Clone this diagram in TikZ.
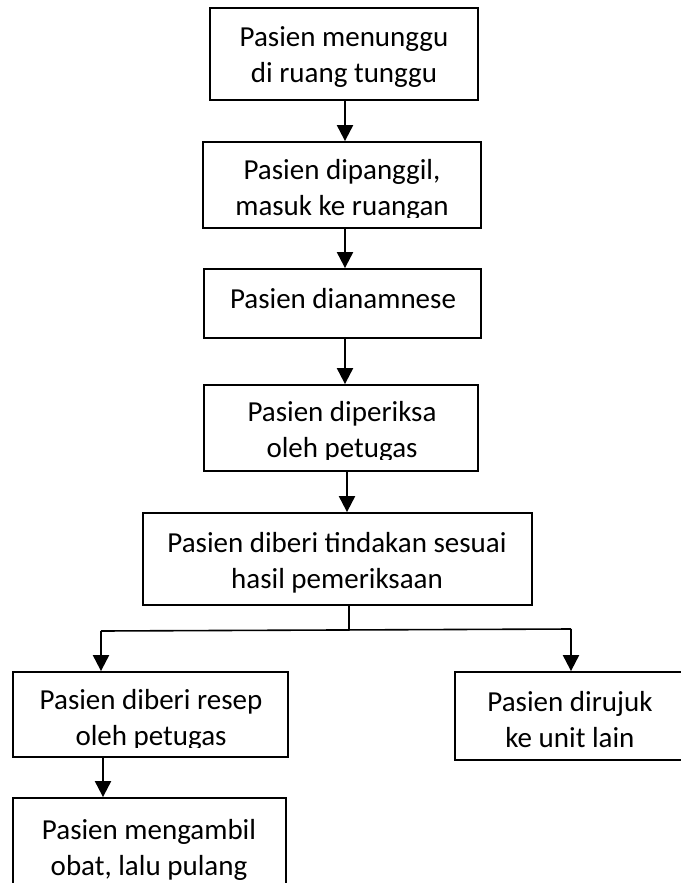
\documentclass[tikz,border=0pt]{standalone}
\usepackage{fontspec}
\setmainfont{Carlito}
\usetikzlibrary{arrows.meta}
\begin{document}
\begin{tikzpicture}[x=1pt,y=-1pt,
  box/.style={draw=black, line width=1.8pt, rectangle, inner sep=0pt},
  txt/.style={font=\fontsize{29}{35.4}\selectfont, align=center, anchor=base, inner sep=0pt},
  arr/.style={line width=2pt, -{Triangle[width=16pt,length=16pt]}},
  ln/.style={line width=1.6pt}]
\useasboundingbox (0,0) rectangle (680,883);
% boxes
\node[box, minimum width=268pt, minimum height=92pt] (b1) at (344,54) {};
\node[box, minimum width=278pt, minimum height=86pt] (b2) at (342,185) {};
\node[box, minimum width=277pt, minimum height=69pt] (b3) at (342.5,303.5) {};
\node[box, minimum width=274pt, minimum height=86pt] (b4) at (341,428) {};
\node[box, minimum width=389pt, minimum height=92pt] (b5) at (337.5,559) {};
\node[box, minimum width=275pt, minimum height=85pt] (b6) at (150.5,714.5) {};
\node[box, minimum width=230pt, minimum height=88pt] (b7) at (570,716) {};
\node[box, minimum width=273pt, minimum height=162pt] (b8) at (149.5,879) {};
% texts (anchor = baseline of the last line)
\node[txt] (t1) at (344,82) {Pasien menunggu\\di ruang tunggu};
\begin{scope}
\clip (200,140) rectangle (480,217);
\node[txt] (t2) at (342,215) {Pasien dipanggil,\\masuk ke ruangan};
\end{scope}
\node[txt] (t3) at (343,308) {Pasien dianamnese};
\begin{scope}
\clip (200,385) rectangle (480,459.5);
\node[txt] (t4) at (342,457) {Pasien diperiksa\\oleh petugas};
\end{scope}
\node[txt] (t5) at (337,588) {Pasien diberi tindakan sesuai\\hasil pemeriksaan};
\begin{scope}
\clip (10,672) rectangle (290,747.5);
\node[txt] (t6) at (151,745) {Pasien diberi resep\\oleh petugas};
\end{scope}
\node[txt] (t7) at (570,747) {Pasien dirujuk\\ke unit lain};
\node[txt] (t8) at (149,875) {Pasien mengambil\\obat, lalu pulang};
% connectors
\coordinate (ca) at (345,0);
\coordinate (cb) at (347,0);
\coordinate (cc) at (349,0);
\coordinate (cd) at (103,0);
\draw[arr] (b1.south -| ca) -- (b2.north -| ca);
\draw[arr] (b2.south -| ca) -- (b3.north -| ca);
\draw[arr] (b3.south -| ca) -- (b4.north -| ca);
\draw[arr] (b4.south -| cb) -- (b5.north -| cb);
\coordinate (j) at (349,630);
\coordinate (jl) at (101,631);
\coordinate (jr) at (571,629);
\draw[ln] (b5.south -| cc) -- (j);
\draw[ln] (jl) -- (jr);
\draw[arr] (jl) -- (b6.north -| jl);
\draw[arr] (jr) -- (b7.north -| jr);
\draw[arr] (b6.south -| cd) -- (b8.north -| cd);
\end{tikzpicture}
\end{document}
